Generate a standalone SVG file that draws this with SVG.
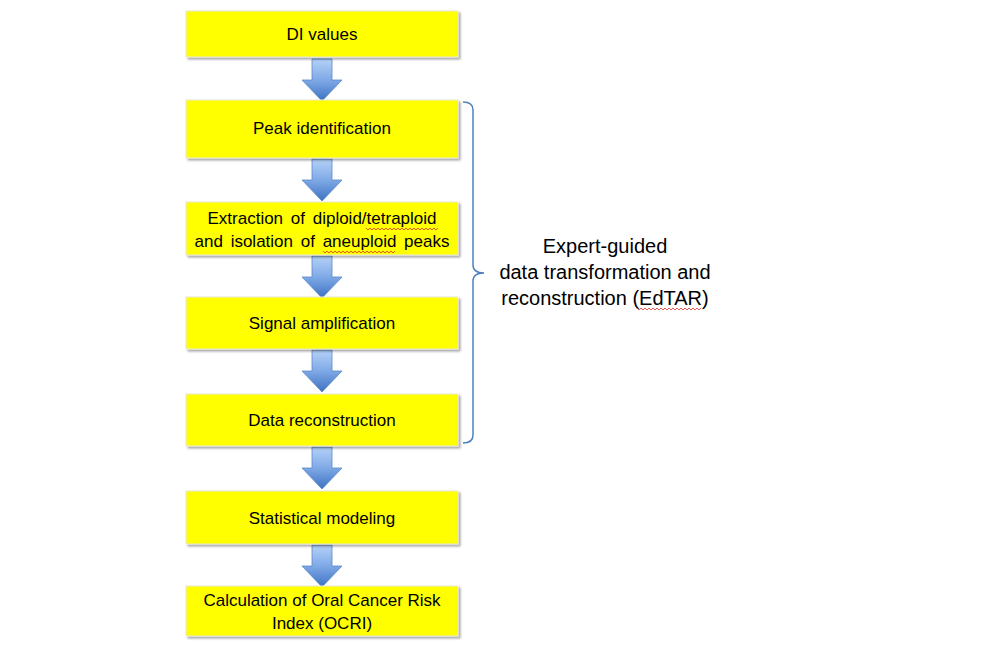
<svg xmlns="http://www.w3.org/2000/svg" width="1008" height="645" viewBox="0 0 1008 645">
<defs>
<linearGradient id="ag" x1="0" y1="0" x2="0" y2="1">
<stop offset="0" stop-color="#b5d2f8"/>
<stop offset="0.5" stop-color="#7fa9e6"/>
<stop offset="1" stop-color="#3e72c2"/>
</linearGradient>
<filter id="sh" x="-5%" y="-10%" width="115%" height="130%">
<feGaussianBlur in="SourceAlpha" stdDeviation="1.2"/>
<feOffset dx="1.5" dy="2" result="b"/>
<feComponentTransfer><feFuncA type="linear" slope="0.35"/></feComponentTransfer>
<feMerge><feMergeNode/><feMergeNode in="SourceGraphic"/></feMerge>
</filter>
<path id="arr" d="M-10,0 H10 V21 H20 L0,42 L-20,21 H-10 Z"/>
</defs>
<style>
.box{fill:#ffff00;stroke:#e8e8d8;stroke-width:1;filter:url(#sh)}
.t{font-family:"Liberation Sans",Arial,sans-serif;font-size:17px;fill:#000;text-anchor:middle}
.w{word-spacing:3px}
.r{font-size:20px}
.a{fill:url(#ag);stroke:#5a88c8;stroke-width:0.8}
.sq{fill:none;stroke:#e03030;stroke-width:0.8}
</style>
<rect width="1008" height="645" fill="#ffffff"/>
<g id="connectors">
<use href="#arr" class="a" x="322" y="59"/>
<use href="#arr" class="a" x="322" y="159"/>
<use href="#arr" class="a" x="322" y="256"/>
<use href="#arr" class="a" x="322" y="350"/>
<use href="#arr" class="a" x="322" y="447"/>
<use href="#arr" class="a" x="322" y="545"/>
</g>
<g id="n1"><rect class="box" x="186" y="11" width="272" height="46"/><text class="t" x="322" y="40">DI values</text></g>
<g id="n2"><rect class="box" x="186" y="100" width="272" height="58"/><text class="t" x="322" y="134">Peak identification</text></g>
<g id="n3"><rect class="box" x="186" y="202" width="272" height="53"/><text class="t w" x="322" y="224">Extraction of diploid/tetraploid</text><text class="t w" x="322" y="247">and isolation of aneuploid peaks</text>
<path class="sq" d="M366,228 l2,2 l2,-2 l2,2 l2,-2 l2,2 l2,-2 l2,2 l2,-2 l2,2 l2,-2 l2,2 l2,-2 l2,2 l2,-2 l2,2 l2,-2 l2,2 l2,-2 l2,2 l2,-2 l2,2 l2,-2 l2,2 l2,-2 l2,2 l2,-2 l2,2 l2,-2 l2,2 l2,-2 l2,2 l2,-2 l2,2 l2,-2 l2,2 l2,-2"/>
<path class="sq" d="M323,251 l2,2 l2,-2 l2,2 l2,-2 l2,2 l2,-2 l2,2 l2,-2 l2,2 l2,-2 l2,2 l2,-2 l2,2 l2,-2 l2,2 l2,-2 l2,2 l2,-2 l2,2 l2,-2 l2,2 l2,-2 l2,2 l2,-2 l2,2 l2,-2 l2,2 l2,-2 l2,2 l2,-2 l2,2 l2,-2 l2,2 l2,-2 l2,2 l2,-2"/>
</g>
<g id="n4"><rect class="box" x="186" y="297" width="272" height="52"/><text class="t" x="322" y="329">Signal amplification</text></g>
<g id="n5"><rect class="box" x="186" y="394" width="272" height="52"/><text class="t" x="322" y="426">Data reconstruction</text></g>
<g id="n6"><rect class="box" x="186" y="491" width="272" height="53"/><text class="t" x="322" y="524">Statistical modeling</text></g>
<g id="n7"><rect class="box" x="186" y="586" width="272" height="50"/><text class="t" x="322" y="606">Calculation of Oral Cancer Risk</text><text class="t" x="322" y="629">Index (OCRI)</text></g>
<g id="brace">
<path d="M463,102 Q473,102 473,110 V265 Q473,273 484,273 Q473,273 473,281 V435 Q473,443 463,443" fill="none" stroke="#4f81bd" stroke-width="1.5"/>
</g>
<g id="label">
<text class="t r" x="605" y="253">Expert-guided</text>
<text class="t r" x="605" y="279">data transformation and</text>
<text class="t r" x="605" y="305">reconstruction (EdTAR)</text>
<path class="sq" d="M637,308 l2,2 l2,-2 l2,2 l2,-2 l2,2 l2,-2 l2,2 l2,-2 l2,2 l2,-2 l2,2 l2,-2 l2,2 l2,-2 l2,2 l2,-2 l2,2 l2,-2 l2,2 l2,-2 l2,2 l2,-2 l2,2 l2,-2 l2,2 l2,-2 l2,2 l2,-2 l2,2 l2,-2 l2,2 l2,-2"/>
</g>
</svg>
